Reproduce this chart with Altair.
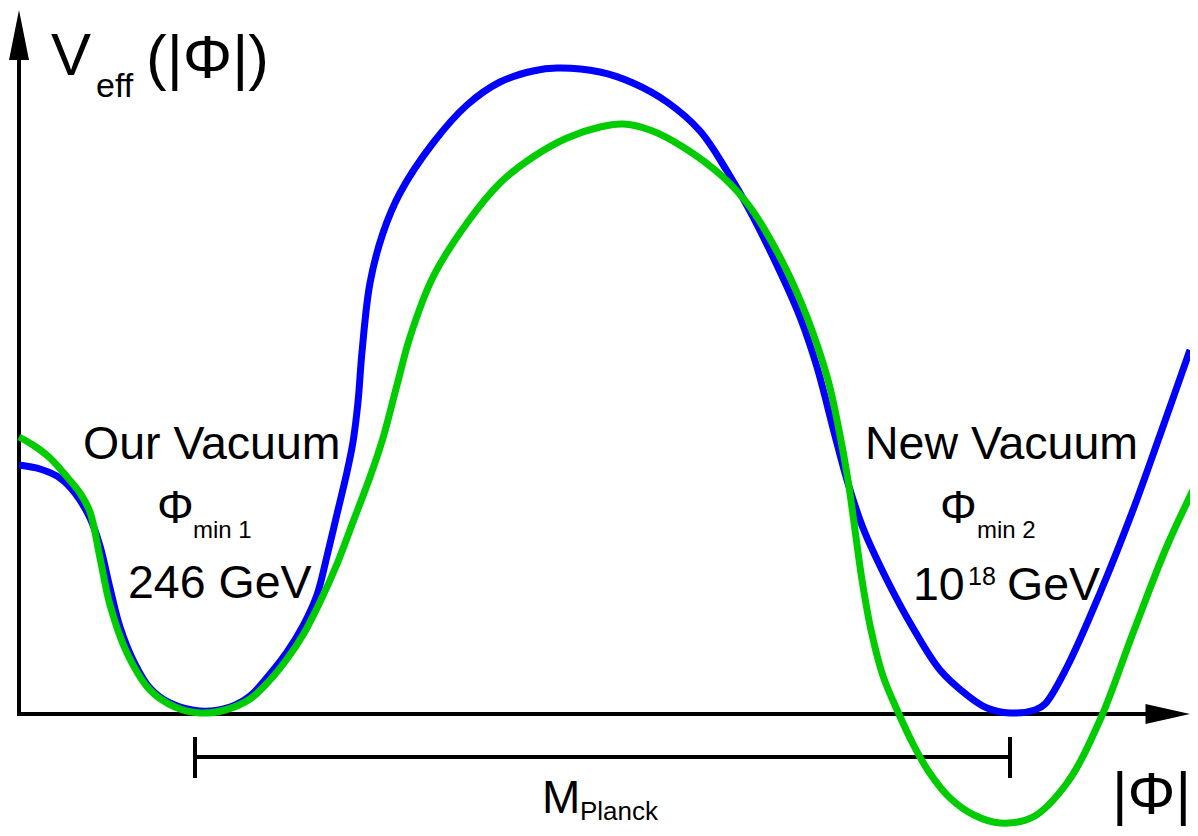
import altair as alt
import pandas as pd

# Field |Phi| (arbitrary units) and effective potential V_eff (arbitrary units)
blue_phi = [0, 21, 41, 56, 71, 81, 91, 101, 116, 131, 151, 181, 211, 231, 251, 268, 284, 298, 308, 318,
            328, 334, 339, 343, 351, 364, 381, 414, 448, 481, 514, 538, 581, 614, 648, 681, 708, 731,
            764, 781, 798, 814, 828, 844, 868, 894, 921, 948, 968, 991, 1016, 1026, 1048, 1081, 1114,
            1141, 1171]
blue_v = [249, 245, 236, 221, 196, 168, 126, 87, 50, 26, 11, 3, 7, 18, 40, 62, 88, 119, 158, 200,
          242, 272, 312, 362, 431, 481, 521, 571, 609, 632, 643, 646, 642, 631, 612, 583, 543, 503,
          436, 397, 347, 286, 234, 186, 134, 86, 44, 19, 6, 1, 4, 10, 47, 121, 204, 279, 364]

green_phi = [0, 14, 31, 48, 61, 71, 81, 91, 108, 131, 156, 181, 206, 231, 251, 268, 284, 301, 318, 334,
             351, 364, 378, 391, 414, 448, 481, 514, 548, 581, 604, 631, 664, 704, 731, 764, 788, 809,
             820, 829, 836, 843, 852, 864, 879, 894, 910, 931, 955, 981, 1014, 1048, 1081, 1114, 1148,
             1178]
green_v = [277, 269, 256, 237, 221, 202, 156, 109, 61, 24, 7, 1, 4, 15, 34, 55, 79, 112, 150, 192,
           237, 276, 329, 377, 437, 491, 531, 557, 576, 587, 590, 584, 567, 537, 507, 451, 397, 334,
           284, 234, 184, 134, 84, 38, 2, -30, -58, -84, -101, -109, -103, -69, -6, 81, 168, 232]

# Annotations
labels = ["V", "eff", "(|Φ|)", "Our Vacuum", "Φ", "min 1", "246 GeV",
          "New Vacuum", "Φ", "min 2", "10", "18", "GeV", "M", "Planck", "|Φ|"]
label_phi = [32, 77, 127, 64, 138, 174, 109, 846, 921, 958, 894, 949, 988, 523, 561, 1093]
label_v = [639, 617, 636, 255, 191, 176, 116, 255, 191, 176, 114, 129, 114, -99, -106, -100]
label_size = [60, 34, 62, 46.5, 46, 24, 46.5, 46.5, 46, 24, 46.5, 25, 46.5, 46, 26, 60]

# Axes and the M_Planck bracket (segments)
seg_x1 = [0, -2, 176, 176, 991]
seg_y1 = [0, 0, -43, -23, -23]
seg_x2 = [0, 1130, 991, 176, 991]
seg_y2 = [656, 0, -43, -64, -64]

# Arrow heads
arrow_phi = [0, 1149]
arrow_v = [679, 0]
arrow_shape = ["M-0.4,1L0,-1L0.4,1Z", "M-1,-0.44L1,0L-1,0.44Z"]
arrow_size = [2500, 2025]

xs = alt.Scale(domain=[-11, 1171], nice=False, zero=False)
ys = alt.Scale(domain=[-114, 706], nice=False, zero=False)

blue_df = pd.DataFrame({"phi": blue_phi, "v": blue_v})
green_df = pd.DataFrame({"phi": green_phi, "v": green_v})
lab_df = pd.DataFrame({"label": labels, "phi": label_phi, "v": label_v, "fs": label_size})
seg_df = pd.DataFrame({"x1": seg_x1, "y1": seg_y1, "x2": seg_x2, "y2": seg_y2})

segs = alt.Chart(seg_df).mark_rule(color="black", strokeWidth=4, clip=False).encode(
    x=alt.X("x1:Q", scale=xs, axis=None),
    y=alt.Y("y1:Q", scale=ys, axis=None),
    x2="x2:Q",
    y2="y2:Q",
)

arrows = []
for p, v, sh, sz in zip(arrow_phi, arrow_v, arrow_shape, arrow_size):
    adf = pd.DataFrame({"phi": [p], "v": [v]})
    arrows.append(
        alt.Chart(adf).mark_point(shape=sh, size=sz, filled=True, color="black",
                                  opacity=1, strokeWidth=0, clip=False).encode(
            x=alt.X("phi:Q", scale=xs, axis=None),
            y=alt.Y("v:Q", scale=ys, axis=None),
        )
    )

blue = alt.Chart(blue_df).mark_line(color="#0000ff", strokeWidth=7, interpolate="catmull-rom",
                                    clip=False).encode(
    x=alt.X("phi:Q", scale=xs, axis=None),
    y=alt.Y("v:Q", scale=ys, axis=None),
    order="phi:Q",
)
green = alt.Chart(green_df).mark_line(color="#00cc00", strokeWidth=7, interpolate="catmull-rom",
                                      clip=False).encode(
    x=alt.X("phi:Q", scale=xs, axis=None),
    y=alt.Y("v:Q", scale=ys, axis=None),
    order="phi:Q",
)

texts = alt.Chart(lab_df).mark_text(align="left", baseline="alphabetic", font="Liberation Sans",
                                    color="black", clip=False).encode(
    x=alt.X("phi:Q", scale=xs, axis=None),
    y=alt.Y("v:Q", scale=ys, axis=None),
    text="label:N",
    size=alt.Size("fs:Q", scale=None, legend=None),
)

chart = alt.layer(segs, *arrows, blue, green, texts).properties(
    width=1182, height=820, padding=0, autosize=alt.AutoSizeParams(type="none"),
    background="white",
).configure_view(stroke=None)

chart.save("out.html", embed_options={"renderer": "svg", "actions": False})
